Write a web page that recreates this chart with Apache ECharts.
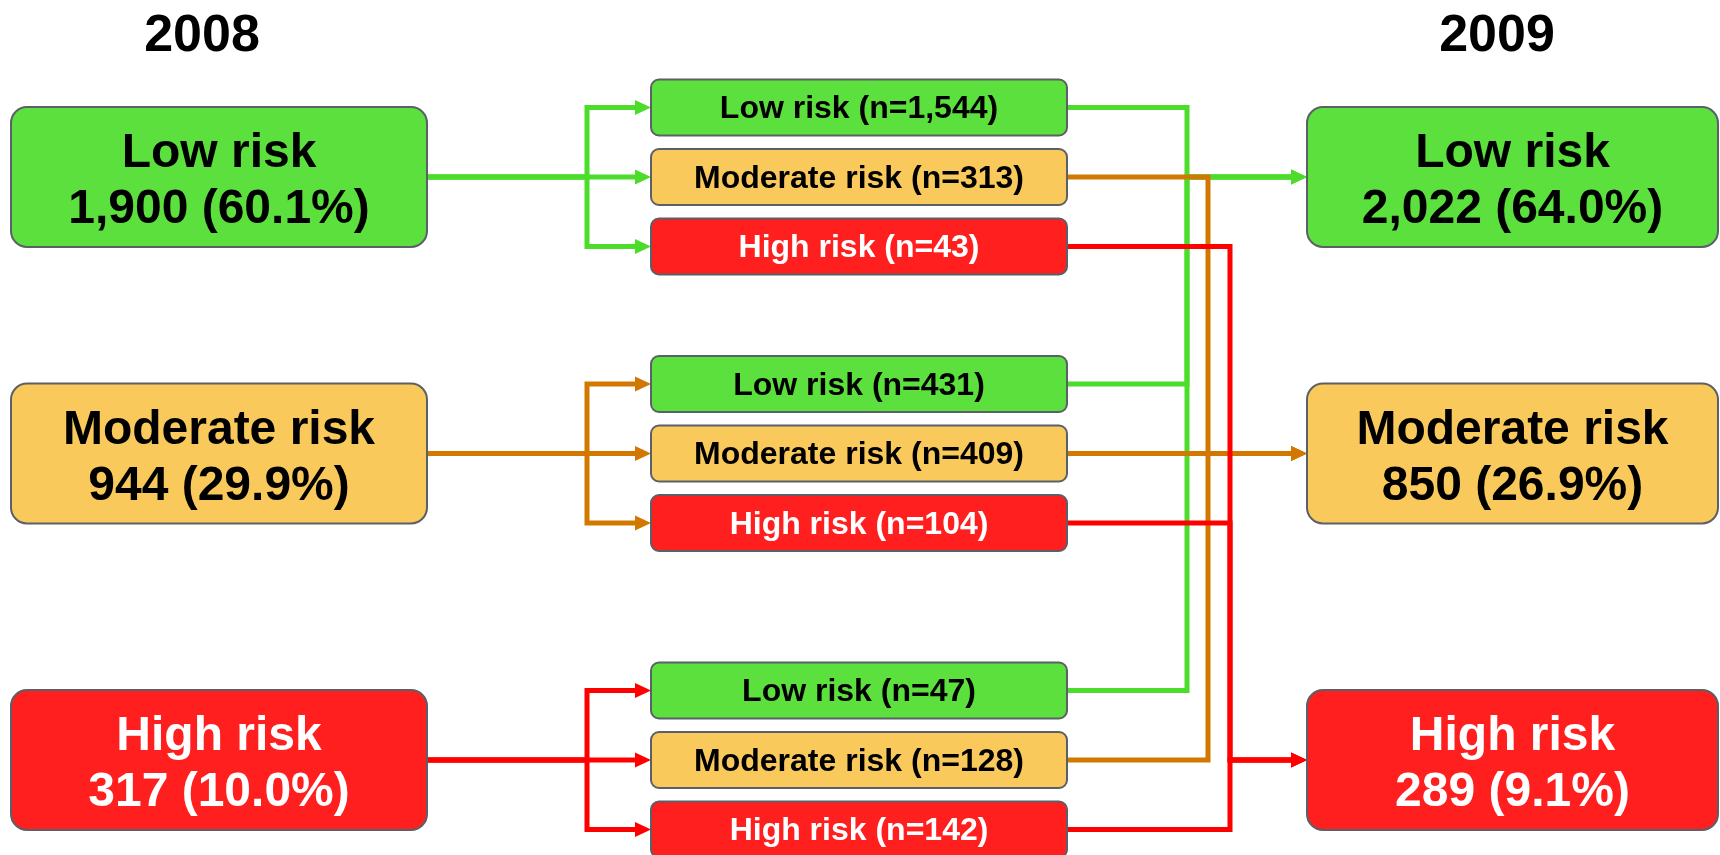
<!DOCTYPE html>
<html>
<head>
<meta charset="utf-8">
<title>Risk level transitions 2008 → 2009</title>
<script src="https://cdn.jsdelivr.net/npm/echarts@6/dist/echarts.min.js"></script>
<style>
  html, body { margin: 0; padding: 0; background: #ffffff; }
  #chart { width: 1720px; height: 855px; }
</style>
</head>
<body>
<div id="chart"></div>
<script>
// ---- data ----
const riskLevels = ['Low risk', 'Moderate risk', 'High risk'];
const yearLabels = ['2008', '2009'];
const counts2008 = [1900, 944, 317];
const share2008 = [60.1, 29.9, 10.0];
const counts2009 = [2022, 850, 289];
const share2009 = [64.0, 26.9, 9.1];
// rows: level in 2008, columns: level in 2009
const transitions = [
  [1544, 313, 43],
  [431, 409, 104],
  [47, 128, 142]
];

// ---- styling ----
const boxFills = ['#5CE03D', '#FAC95B', '#FF1F1F'];
const lineColors = ['#4CDC2A', '#D27800', '#FF0000'];
const textColors = ['#000000', '#000000', '#FFFFFF'];
const borderColor = '#5B6066';
const fontFamily = '"Liberation Sans", Arial, Helvetica, sans-serif';

// ---- layout (axis units, one unit per pixel) ----
const L = {
  width: 1720,
  height: 855,
  rowY: [177, 453.5, 760],
  leftX: [11, 427],
  rightX: [1307, 1718],
  midX: [651, 1067],
  bigH: 140,
  bigR: 16,
  midH: 56,
  midR: 8,
  subOffset: [-69.5, 0, 69.5],
  leftBusX: 587,
  rightBusX: [1187, 1208, 1230],
  titleX: [202, 1497],
  titleY: 37,
  bigFont: 48,
  midFont: 32,
  titleFont: 52,
  bigTextShift: 5,
  midTextShift: 2,
  lineW: 5,
  arrowLen: 16,
  arrowHalf: 7.5
};

const fmt = n => n.toLocaleString('en-US');

// ---- boxes ----
const boxes = [];
riskLevels.forEach((lvl, i) => {
  boxes.push({
    kind: 'big', level: i, x0: L.leftX[0], x1: L.leftX[1], cy: L.rowY[i],
    text: lvl + '\n' + fmt(counts2008[i]) + ' (' + share2008[i].toFixed(1) + '%)'
  });
  boxes.push({
    kind: 'big', level: i, x0: L.rightX[0], x1: L.rightX[1], cy: L.rowY[i],
    text: lvl + '\n' + fmt(counts2009[i]) + ' (' + share2009[i].toFixed(1) + '%)'
  });
  riskLevels.forEach((lvl2, j) => {
    boxes.push({
      kind: 'mid', level: j, x0: L.midX[0], x1: L.midX[1], cy: L.rowY[i] + L.subOffset[j],
      text: lvl2 + ' (n=' + fmt(transitions[i][j]) + ')'
    });
  });
});

// ---- connectors ----
const links = [];
riskLevels.forEach((_, i) => {
  riskLevels.forEach((__, j) => {
    const yc = L.rowY[i] + L.subOffset[j];
    // fan-out from the 2008 box into its three outcome boxes
    links.push({
      color: i,
      pts: [[L.leftX[1], L.rowY[i]], [L.leftBusX, L.rowY[i]], [L.leftBusX, yc], [L.midX[0], yc]]
    });
    // fan-in from each outcome box to the 2009 box
    links.push({
      color: j,
      pts: [[L.midX[1], yc], [L.rightBusX[j], yc], [L.rightBusX[j], L.rowY[j]], [L.rightX[0], L.rowY[j]]]
    });
  });
});
// green first, then orange, then red on top
links.sort((a, b) => a.color - b.color);

const chart = echarts.init(document.getElementById('chart'), null, { renderer: 'canvas' });

function renderLink(params, api) {
  const lk = links[params.dataIndex];
  const px = lk.pts.map(p => api.coord(p));
  const last = lk.pts[lk.pts.length - 1];
  const tip = px[px.length - 1];
  const base = api.coord([last[0] - L.arrowLen, last[1]]);
  const linePts = px.slice(0, px.length - 1).concat([[base[0] + 2, base[1]]]);
  const col = lineColors[lk.color];
  return {
    type: 'group',
    children: [
      {
        type: 'polyline',
        shape: { points: linePts },
        style: { stroke: col, lineWidth: L.lineW, fill: null, lineJoin: 'miter', lineCap: 'butt' }
      },
      {
        type: 'polygon',
        shape: { points: [[tip[0], tip[1]], [base[0], base[1] - L.arrowHalf], [base[0], base[1] + L.arrowHalf]] },
        style: { fill: col }
      }
    ]
  };
}

function renderBox(params, api) {
  const b = boxes[params.dataIndex];
  const big = b.kind === 'big';
  const h = big ? L.bigH : L.midH;
  const p0 = api.coord([b.x0, b.cy - h / 2]);
  const p1 = api.coord([b.x1, b.cy + h / 2]);
  const c = api.coord([(b.x0 + b.x1) / 2, b.cy + (big ? L.bigTextShift : L.midTextShift)]);
  return {
    type: 'group',
    children: [
      {
        type: 'rect',
        shape: { x: p0[0], y: p0[1], width: p1[0] - p0[0], height: p1[1] - p0[1], r: big ? L.bigR : L.midR },
        style: { fill: boxFills[b.level], stroke: borderColor, lineWidth: 2 }
      },
      {
        type: 'text',
        x: c[0],
        y: c[1],
        style: {
          text: b.text,
          align: 'center',
          verticalAlign: 'middle',
          font: 'bold ' + (big ? L.bigFont : L.midFont) + 'px ' + fontFamily,
          lineHeight: big ? 56 : 34,
          fill: textColors[b.level]
        }
      }
    ]
  };
}

function renderTitle(params, api) {
  const p = api.coord([L.titleX[params.dataIndex], L.titleY]);
  return {
    type: 'text',
    x: p[0],
    y: p[1],
    style: {
      text: yearLabels[params.dataIndex],
      align: 'center',
      verticalAlign: 'middle',
      font: 'bold ' + L.titleFont + 'px ' + fontFamily,
      fill: '#000000'
    }
  };
}

chart.setOption({
  animation: false,
  backgroundColor: '#ffffff',
  grid: { left: 0, right: 0, top: 0, bottom: 0 },
  xAxis: { type: 'value', min: 0, max: L.width, show: false },
  yAxis: { type: 'value', min: 0, max: L.height, inverse: true, show: false },
  series: [
    {
      type: 'custom', name: 'links', silent: true, clip: false, z: 1,
      data: links.map(l => l.pts[0]),
      renderItem: renderLink
    },
    {
      type: 'custom', name: 'boxes', silent: true, clip: false, z: 2,
      data: boxes.map(b => [(b.x0 + b.x1) / 2, b.cy]),
      renderItem: renderBox
    },
    {
      type: 'custom', name: 'years', silent: true, clip: false, z: 3,
      data: yearLabels.map((_, k) => [L.titleX[k], L.titleY]),
      renderItem: renderTitle
    }
  ]
});
</script>
</body>
</html>
